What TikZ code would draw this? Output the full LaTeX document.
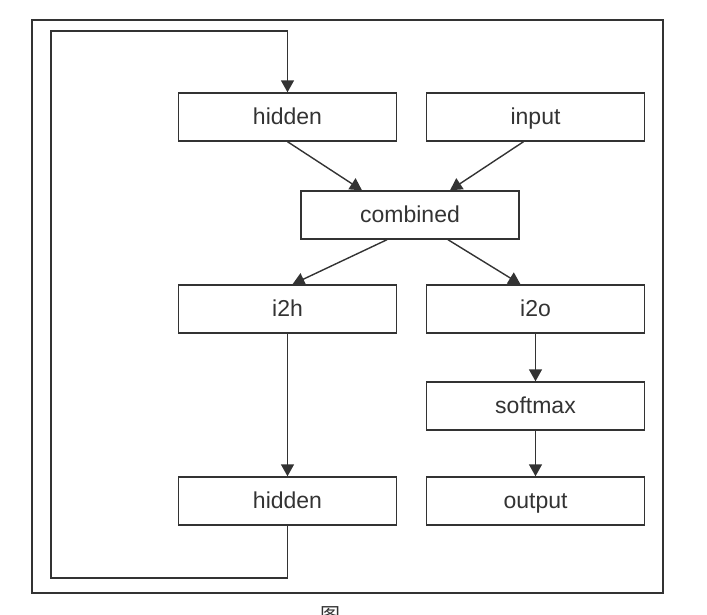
\documentclass[tikz,border=0pt]{standalone}
\usepackage{fontspec}
\setmainfont{Liberation Sans}
\newfontfamily\cjk{Noto Sans CJK SC}
\usetikzlibrary{arrows.meta}
\definecolor{ink}{HTML}{333333}
\begin{document}
\begin{tikzpicture}[x=1pt,y=-1pt,
  box/.style={draw=ink,line width=1.4pt,minimum width=218pt,minimum height=48pt,
    inner sep=0pt,text height=19pt,text depth=4pt,
    font=\fontsize{23}{26}\selectfont,text=ink},
  link/.style={draw=ink,line width=1.4pt,-{Triangle[width=13pt,length=12pt]}},
  wire/.style={draw=ink,line width=1.4pt}]
\useasboundingbox (0,0) rectangle (707,614);
% outer frame
\draw[ink,line width=1.6pt] (32,20) rectangle (663,593);
% boxes
\node[box] (hin)  at (287.5,117) {hidden};
\node[box] (inp)  at (535.5,117) {input};
\node[box] (comb) at (410,215) {combined};
\node[box] (i2h)  at (287.5,309) {i2h};
\node[box] (i2o)  at (535.5,309) {i2o};
\node[box] (soft) at (535.5,406) {softmax};
\node[box] (hout) at (287.5,501) {hidden};
\node[box] (out)  at (535.5,501) {output};
% feedback of the hidden state
\coordinate (lb) at (287.5,578);
\coordinate (ll) at (51,578);
\coordinate (lt) at (51,31);
\coordinate (lr) at (287.5,31);
\draw[wire] (hout.south) -- (lb) -- (ll) -- (lt) -- (lr);
\draw[link] (lr) -- (hin.north);
% forward connections
\draw[link] (hin.south) -- ([xshift=-48pt]comb.north);
\draw[link] ([xshift=-12pt]inp.south) -- ([xshift=40pt]comb.north);
\draw[link] ([xshift=-23pt]comb.south) -- ([xshift=5pt]i2h.north);
\draw[link] ([xshift=38pt]comb.south) -- ([xshift=-15pt]i2o.north);
\draw[link] (i2h.south) -- (hout.north);
\draw[link] (i2o.south) -- (soft.north);
\draw[link] (soft.south) -- (out.north);
% caption, cut off at the lower edge
\node[anchor=north,inner sep=0pt,font=\cjk\fontsize{20}{22}\selectfont,text=ink] (cap) at (330,606) {图};
\end{tikzpicture}
\end{document}
